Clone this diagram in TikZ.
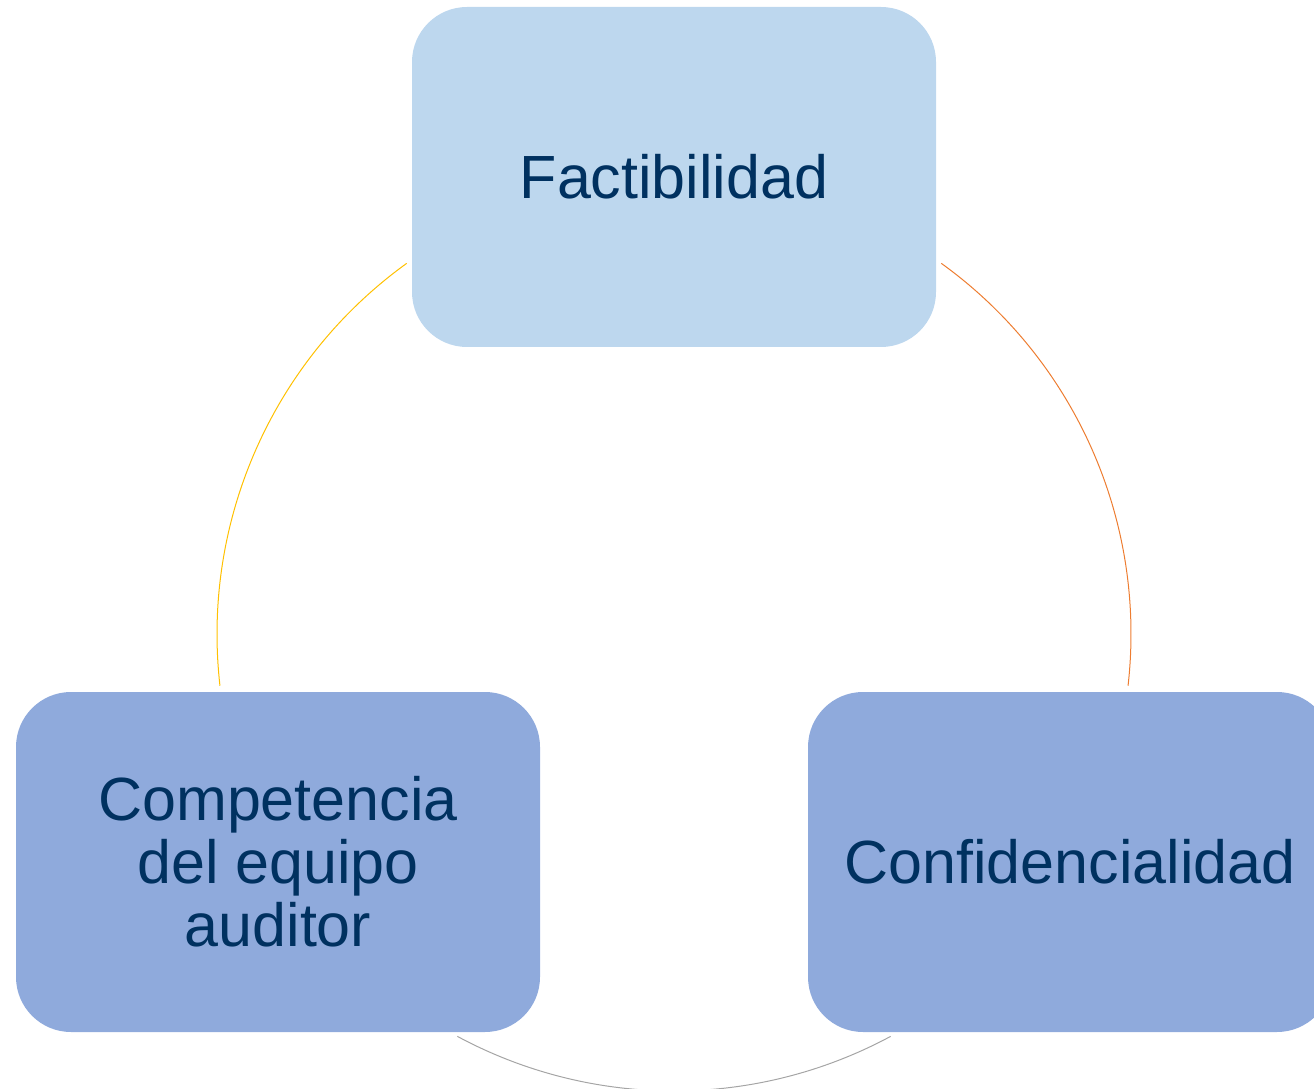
\documentclass[tikz,border=0pt]{standalone}
\usepackage{fontspec}
\setmainfont{Liberation Sans}
\usetikzlibrary{positioning,calc}

\definecolor{txtblue}{HTML}{003160}
\definecolor{lightbox}{HTML}{BDD7EE}
\definecolor{darkbox}{HTML}{8FAADC}
\definecolor{arcyellow}{HTML}{FFC000}
\definecolor{arcorange}{HTML}{ED7D31}
\definecolor{arcgray}{HTML}{A5A5A5}

\tikzset{
  pillar/.style={rounded corners=55pt, minimum width=524pt, minimum height=340pt,
                 inner sep=0pt, align=center, text=txtblue,
                 font=\fontsize{61}{63}\selectfont},
  ring/.style={line width=1pt}
}

\begin{document}
\begin{tikzpicture}[x=1pt,y=1pt]
  % Define dimensions
  \def\R{457}
  \useasboundingbox (0,0) rectangle (1314,1088);
  \clip (0,0) rectangle (1314,1088);

  % Define points
  \coordinate (O) at (674,454);

  % Draw boxes
  \node[pillar, fill=lightbox] (fact) at (674,911) {Factibilidad};
  \node[pillar, fill=darkbox] (conf) at (1070,226) {Confidencialidad};
  \node[pillar, fill=darkbox] (comp) at (278,226) {Competencia\\del equipo\\auditor};

  % Arc end points
  \coordinate (F1) at ($(O)+(54.2:\R)$);
  \coordinate (C1) at ($(O)+(-61.7:\R)$);
  \coordinate (A1) at ($(O)+(186.5:\R)$);

  % Draw ring
  \draw[ring, arcorange] (F1) arc[start angle=54.2, end angle=-6.5, radius=\R];
  \draw[ring, arcgray] (C1) arc[start angle=-61.7, end angle=-118.3, radius=\R];
  \draw[ring, arcyellow] (A1) arc[start angle=186.5, end angle=125.8, radius=\R];
\end{tikzpicture}
\end{document}
